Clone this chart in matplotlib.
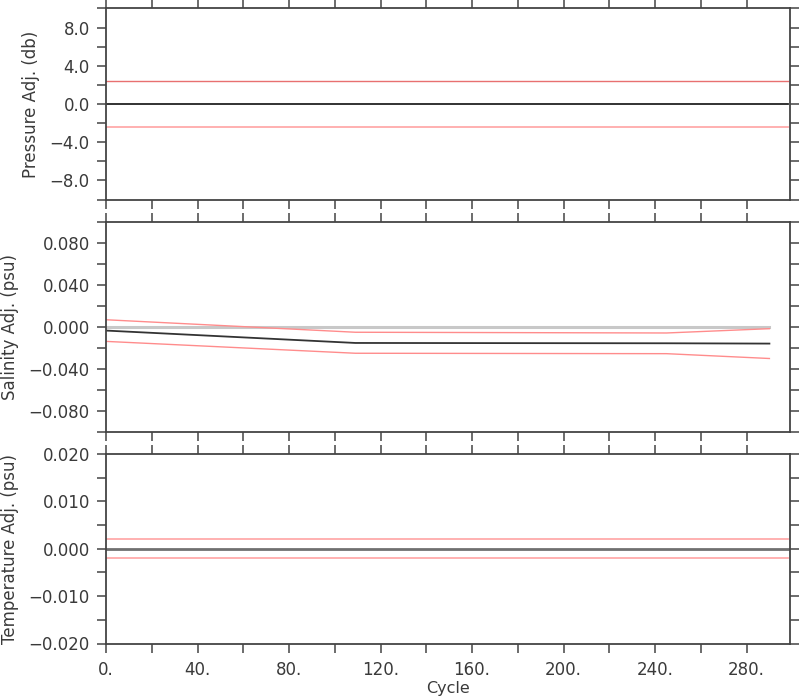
import matplotlib
matplotlib.use("Agg")
import matplotlib.pyplot as plt
from matplotlib.ticker import MultipleLocator, FuncFormatter

# Donnees
pres_cycles = [0, 298]
pres_adj = [0.0, 0.0]
pres_err = [2.4, 2.4]

sal_cycles = [0, 109, 245, 290]
sal_adj = [-0.0034, -0.0152, -0.0155, -0.0158]
sal_upper = [0.0069, -0.0050, -0.0057, -0.0016]
sal_lower = [-0.0137, -0.0250, -0.0254, -0.0300]

temp_cycles = [0, 298]
temp_adj = [0.0, 0.0]
temp_err = [0.002, 0.002]

txt = '#3a3a3a'
plt.rcParams['font.family'] = 'DejaVu Sans'
plt.rcParams['font.size'] = 12
plt.rcParams['text.color'] = txt

fig = plt.figure(figsize=(8, 7), dpi=100)
left, width = 106 / 800, 684 / 800
ax1 = fig.add_axes([left, 1 - 199.6 / 700, width, 191.2 / 700])
ax2 = fig.add_axes([left, 1 - 432 / 700, width, 210 / 700])
ax3 = fig.add_axes([left, 1 - 643.5 / 700, width, 189.5 / 700])


def fmt(nd):
    def f(v, pos):
        s = f"{v:.{nd}f}"
        if abs(v) < 1e-12:
            s = f"{0:.{nd}f}"
        return s.replace('-', '\u2212')
    return FuncFormatter(f)


def style(ax, ymaj, ymin, ylim, ynd, ylabel, xlabels):
    ax.set_xlim(0, 299)
    ax.set_ylim(*ylim)
    ax.xaxis.set_major_locator(MultipleLocator(40))
    ax.xaxis.set_minor_locator(MultipleLocator(20))
    ax.yaxis.set_major_locator(MultipleLocator(ymaj))
    ax.yaxis.set_minor_locator(MultipleLocator(ymin))
    ax.yaxis.set_major_formatter(fmt(ynd))
    ax.xaxis.set_major_formatter(FuncFormatter(lambda v, p: f"{v:.0f}."))
    for which in ('major', 'minor'):
        ax.tick_params(axis='both', which=which, direction='out', length=6.7,
                       width=1.1, color='#444444', top=True, right=True,
                       labelcolor=txt, pad=5)
    ax.tick_params(axis='x', labelbottom=xlabels, pad=6)
    for sp in ax.spines.values():
        sp.set_color('#444444')
        sp.set_linewidth(1.3)
    ax.set_ylabel(ylabel, color=txt, fontsize=12, labelpad=7)


# Pression
ax1.plot(pres_cycles, [e for e in pres_err], color='#e87070', lw=1.0)
ax1.plot(pres_cycles, [-e for e in pres_err], color='#ffaaaa', lw=1.3)
ax1.plot(pres_cycles, pres_adj, color='#222222', lw=1.3)
style(ax1, 4, 2, (-10, 10), 1, 'Pressure Adj. (db)', False)

# Salinite
ax2.plot([sal_cycles[0], sal_cycles[-1]], [0, 0], color='#c8c8c8', lw=2.2)
ax2.plot(sal_cycles, sal_upper, color='#ff8c8c', lw=1.0)
ax2.plot(sal_cycles, sal_lower, color='#ff8c8c', lw=1.0)
ax2.plot(sal_cycles, sal_adj, color='#333333', lw=1.3)
style(ax2, 0.04, 0.02, (-0.1, 0.1), 3, 'Salinity Adj. (psu)', False)

# Temperature
ax3.plot(temp_cycles, temp_err, color='#ffaaaa', lw=1.3)
ax3.plot(temp_cycles, [-e for e in temp_err], color='#ffaaaa', lw=1.3)
ax3.plot(temp_cycles, temp_adj, color='#707070', lw=2.0)
style(ax3, 0.01, 0.005, (-0.02, 0.02), 3, 'Temperature Adj. (psu)', True)
ax3.set_xlabel('Cycle', color=txt, fontsize=11.5, labelpad=1)

fig.savefig('out.png', dpi=100)
